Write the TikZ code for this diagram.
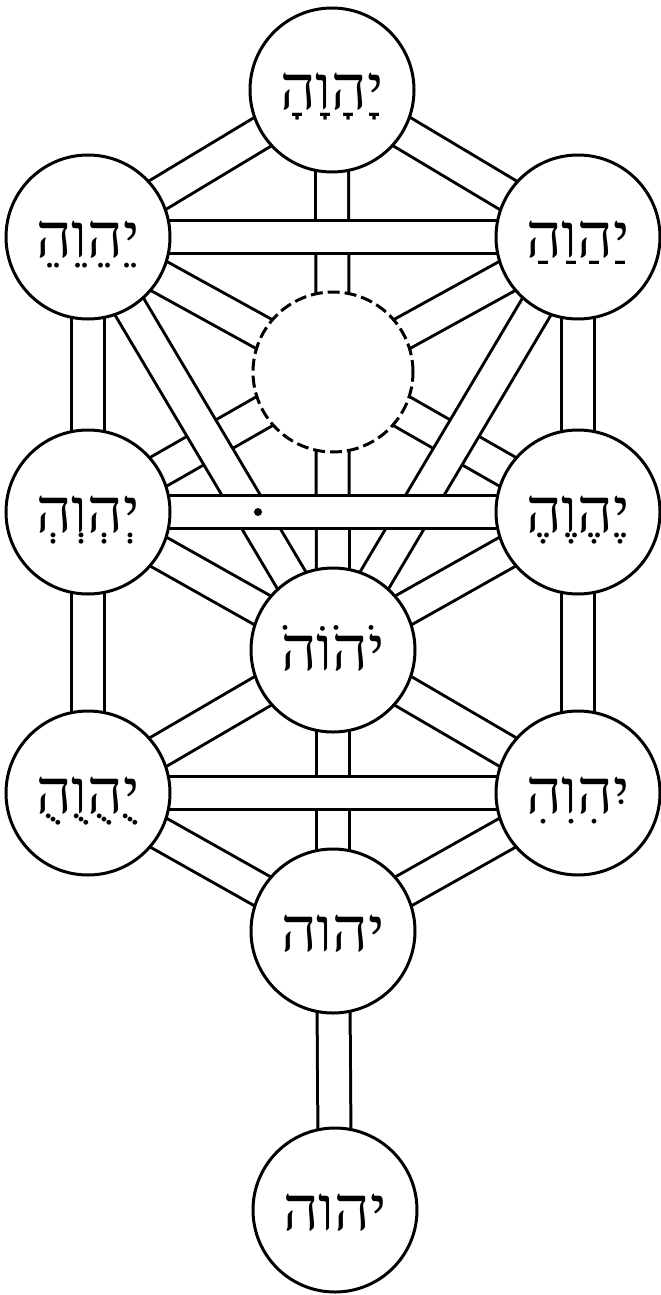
\documentclass[tikz,border=0pt]{standalone}
\usepackage{fontspec}
\newfontfamily\hebfont[Script=Hebrew]{Liberation Serif}
\TeXXeTstate=1
\pgfdeclarelayer{diag}
\pgfdeclarelayer{vert}
\pgfdeclarelayer{horz}
\pgfsetlayers{diag,vert,horz,main}
\newcommand{\heb}[1]{\hebfont\beginR #1\endR}
\begin{document}
\begin{tikzpicture}[x=0.5pt,y=-0.5pt,
  sph/.style={circle,draw,line width=1.5pt,fill=white,minimum size=82pt,inner sep=0pt,
    font=\fontsize{31}{34}\selectfont,text height=20pt,text depth=0pt},
  hiddensph/.style={circle,draw,line width=1.5pt,fill=white,minimum size=80pt,inner sep=0pt,
    dash pattern=on 6pt off 2.5pt},
  band/.style={line width=1.5pt,double=white,double distance=15pt}]
\useasboundingbox (0,0) rectangle (660,1295);
\node[sph] (kether)  at (332,90)   {\heb{יָהָוָהָ}};
\node[sph] (chokmah) at (578,237)  {\heb{יַהַוַהַ}};
\node[sph] (binah)   at (88,237)   {\heb{יֵהֵוֵהֵ}};
\node[hiddensph] (daath) at (333,372) {};
\node[sph] (chesed)  at (578,512)  {\heb{יֶהֶוֶהֶ}};
\node[sph] (gevurah) at (88,512)   {\heb{יְהְוְהְ}};
\node[sph] (tiferet) at (333,650)  {\heb{יֹהֹוֹהֹ}};
\node[sph] (netzach) at (578,793)  {\heb{יִהִוִהִ}};
\node[sph] (hod)     at (88,793)   {\heb{יֻהֻוֻהֻ}};
\node[sph] (yesod)   at (333,931)  {\heb{יהוה}};
\node[sph] (malkhut) at (335,1210) {\heb{יהוה}};
\begin{pgfonlayer}{diag}
\foreach \a/\b in {kether/binah,kether/chokmah,binah/daath,chokmah/daath,gevurah/daath,chesed/daath,
  binah/tiferet,chokmah/tiferet,gevurah/tiferet,chesed/tiferet,hod/tiferet,netzach/tiferet,hod/yesod,netzach/yesod}
  \draw[band] (\a.center) -- (\b.center);
\end{pgfonlayer}
\begin{pgfonlayer}{vert}
\foreach \a/\b in {kether/tiferet,binah/gevurah,gevurah/hod,chokmah/chesed,chesed/netzach,tiferet/yesod,yesod/malkhut}
  \draw[band] (\a.center) -- (\b.center);
\end{pgfonlayer}
\begin{pgfonlayer}{horz}
\foreach \a/\b in {binah/chokmah,gevurah/chesed,hod/netzach}
  \draw[band] (\a.center) -- (\b.center);
\end{pgfonlayer}
\fill (258,512) circle (4);
\end{tikzpicture}
\end{document}
